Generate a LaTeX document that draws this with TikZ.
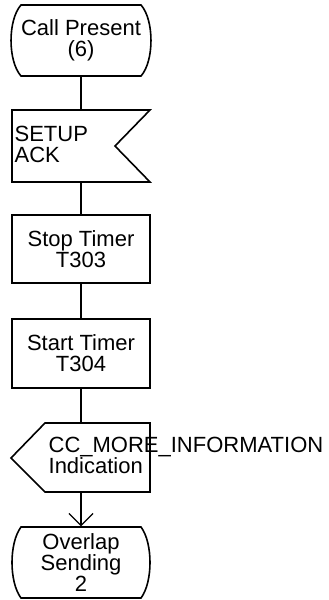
\documentclass[tikz,border=0pt]{standalone}
\usepackage{fontspec}
\setmainfont{Liberation Sans}
\usetikzlibrary{arrows.meta}
\begin{document}
\begin{tikzpicture}[x=1pt,y=-1pt,line width=1.3pt,
  holder/.style={draw=none,inner sep=0pt,font=\fontsize{22}{21}\selectfont,align=center},
  txt/.style={inner sep=0pt,font=\fontsize{22}{21}\selectfont,align=left},
  conn/.style={line width=1.3pt},
  outline/.style={line width=1.6pt,line join=miter}]
\useasboundingbox (0,0) rectangle (329,600);
% nodes
\node[holder,minimum width=140pt,minimum height=71pt] (s1) at (81,40.5) {Call Present\\(6)};
\node[holder,minimum width=138pt,minimum height=72pt] (in1) at (81,146) {};
\node[txt,anchor=west] (in1t) at (14,144) {SETUP\\ACK};
\node[holder,minimum width=138pt,minimum height=68pt] (b1) at (81,249) {Stop Timer\\T303};
\node[holder,minimum width=138pt,minimum height=69pt] (b2) at (81,353.5) {Start Timer\\T304};
\node[holder,minimum width=139pt,minimum height=69pt] (out1) at (81,457.5) {};
\node[txt,anchor=west] (out1t) at (48,455) {CC\_MORE\_INFORMATION\\Indication};
\node[holder,minimum width=138pt,minimum height=71pt] (s2) at (81,562.5) {Overlap\\Sending\\2};
% outlines
\draw[outline] (21,5) -- (141,5) .. controls (154.3,20) and (154.3,61) .. (141,76)
  -- (21,76) .. controls (7.7,61) and (7.7,20) .. (21,5) -- cycle;
\draw[outline] (12,110) -- (150,110) -- (115,146) -- (150,182) -- (12,182) -- cycle;
\draw[outline] (12,215) rectangle (150,283);
\draw[outline] (12,319) rectangle (150,388);
\draw[outline] (45,423) -- (150,423) -- (150,492) -- (45,492) -- (11,458) -- cycle;
\draw[outline] (21,527) -- (141,527) .. controls (153,543) and (153,582) .. (141,598)
  -- (21,598) .. controls (9,582) and (9,543) .. (21,527) -- cycle;
% connectors
\draw[conn] (s1.south) -- (in1.north);
\draw[conn] (in1.south) -- (b1.north);
\draw[conn] (b1.south) -- (b2.north);
\draw[conn] (b2.south) -- (out1.north);
\draw[conn,-{Straight Barb[length=12pt,width=24pt,line width=1.3pt]}] (out1.south) -- (s2.north);
\end{tikzpicture}
\end{document}
